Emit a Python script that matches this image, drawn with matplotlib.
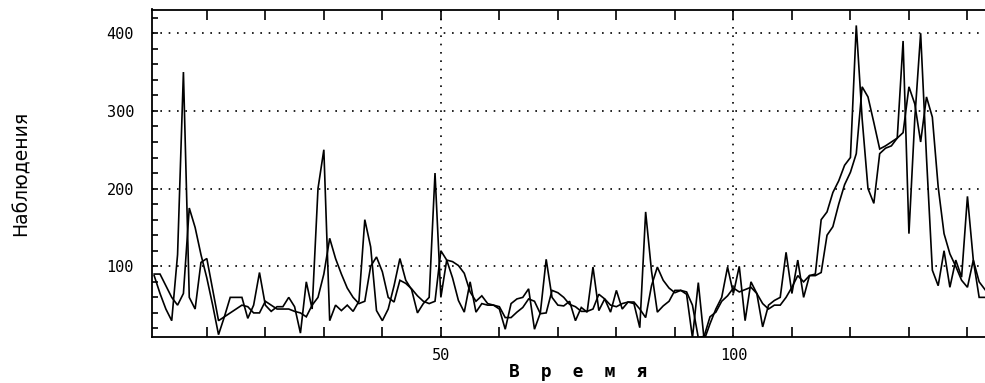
import matplotlib
matplotlib.use("Agg")
import matplotlib.pyplot as plt
from matplotlib.ticker import FixedLocator

t = list(range(1, 144))

observed = [88, 65, 45, 30, 115, 350, 60, 45, 105, 110,
            70, 30, 35, 60, 60, 60, 33, 50, 92, 50,
            42, 48, 48, 60, 48, 14, 80, 45, 200, 250,
            30, 50, 43, 50, 42, 55, 160, 125, 43, 30,
            45, 75, 110, 82, 70, 40, 52, 60, 220, 60,
            108, 85, 56, 41, 80, 41, 52, 50, 50, 45,
            19, 52, 58, 60, 71, 19, 40, 109, 60, 50,
            49, 55, 30, 47, 41, 99, 43, 58, 41, 69,
            45, 54, 52, 21, 170, 94, 41, 49, 55, 69,
            69, 64, 8, 79, 5, 26, 45, 60, 99, 65,
            100, 30, 80, 65, 22, 50, 56, 60, 118, 65,
            108, 60, 88, 90, 160, 170, 195, 210, 230, 240,
            410, 290, 200, 181, 245, 252, 255, 265, 390, 142,
            290, 400, 240, 95, 75, 120, 73, 108, 86, 190,
            108, 80, 70]

forecast = [90, 90, 75, 60, 50, 65, 175, 150, 115, 85,
            50, 12, 35, 40, 45, 50, 48, 40, 40, 55,
            50, 45, 45, 45, 42, 40, 35, 50, 60, 90,
            136, 110, 90, 72, 60, 52, 55, 100, 112, 93,
            60, 54, 82, 78, 71, 62, 55, 52, 55, 120,
            108, 106, 101, 91, 67, 55, 62, 52, 50, 48,
            34, 34, 41, 47, 58, 55, 39, 40, 69, 66,
            60, 51, 48, 42, 42, 45, 64, 58, 50, 48,
            52, 54, 54, 45, 34, 75, 99, 82, 72, 66,
            69, 67, 50, 8, 10, 35, 41, 55, 62, 72,
            67, 70, 73, 65, 52, 45, 50, 50, 60, 73,
            88, 80, 88, 88, 92, 140, 151, 180, 205, 221,
            245, 331, 318, 285, 251, 255, 260, 265, 272, 331,
            309, 260, 318, 292, 202, 142, 116, 100, 82, 73,
            108, 60, 60]

x_ticklabels = ["50", "100"]
y_ticklabels = ["100", "200", "300", "400"]
x_label = "В  р  е  м  я"
y_label = "Наблюдения"

fig = plt.figure(figsize=(9.85, 3.83), dpi=100)
ax = fig.add_axes([152 / 985, 1 - 337 / 383, (985 - 152) / 985, (337 - 9.5) / 383])

ax.plot(t, observed, color="black", lw=1.2, solid_joinstyle="miter")
ax.plot(t, forecast, color="black", lw=1.2, solid_joinstyle="miter")

ax.set_xlim(0.63, 143.0)
ax.set_ylim(9, 430.5)

ax.xaxis.set_major_locator(FixedLocator([50, 100]))
ax.set_xticklabels(x_ticklabels)
ax.xaxis.set_minor_locator(FixedLocator([v for v in range(10, 150, 10) if v not in (50, 100)]))
ax.yaxis.set_major_locator(FixedLocator([100, 200, 300, 400]))
ax.set_yticklabels(y_ticklabels)
ax.yaxis.set_minor_locator(FixedLocator([v for v in range(20, 430, 20) if v % 100]))

ax.tick_params(axis="x", which="both", direction="in", top=True, bottom=True,
               length=7, width=1.2, pad=8, labelsize=11)
ax.tick_params(axis="y", which="both", direction="in", left=True, right=False,
               length=4.5, width=1.2, pad=13, labelsize=11)
for lab in ax.get_xticklabels() + ax.get_yticklabels():
    lab.set_family("DejaVu Sans Mono")

ax.grid(True, which="major", color="black", linestyle=(0, (1, 4)), linewidth=1.2)

for s in ("left", "bottom", "top"):
    ax.spines[s].set_linewidth(1.3)
ax.spines["right"].set_visible(False)

fig.text(578 / 985, 1 - 372 / 383, x_label, ha="center", va="center",
         fontsize=12.8, fontweight="bold", family="DejaVu Sans Mono")
fig.text(21 / 985, 1 - 173 / 383, y_label, ha="center", va="center",
         rotation=90, fontsize=13.5, family="DejaVu Sans")

fig.savefig("out.png", dpi=100)
